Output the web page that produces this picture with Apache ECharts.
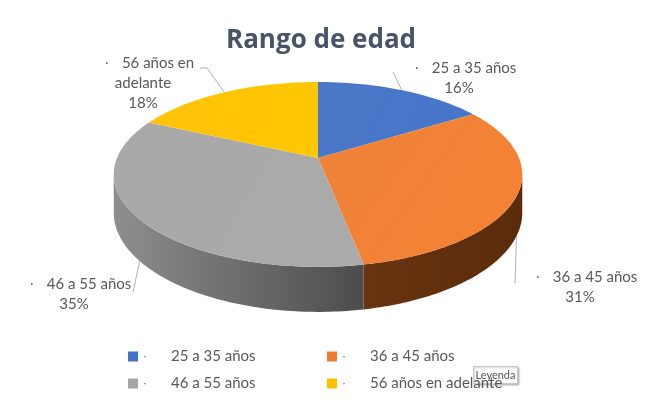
<!DOCTYPE html>
<html>
<head>
<meta charset="utf-8">
<script src="https://cdn.jsdelivr.net/npm/echarts@6/dist/echarts.min.js"></script>
<style>
  html, body { margin: 0; padding: 0; background: #fff; }
  #chart { width: 653px; height: 403px; }
</style>
</head>
<body>
<div id="chart"></div>
<script>
// datos
var categories = ["25 a 35 años", "36 a 45 años", "46 a 55 años", "56 años en adelante"];
var values = [16, 31, 35, 18];
var colors = ["#4472C4", "#ED7D31", "#A5A5A5", "#FFC000"];

// colores de la pared lateral (oscuro)
var sideColors = [
  ["#2f5597", "#24447a"],
  ["#6a3410", "#5a2b0b"],
  ["#8e8e8e", "#4c4c4c"],
  ["#b38600", "#8a6700"]
];

// geometria del pastel 3D (perspectiva simple)
var CX = 318, CY = 158, RX = 201, RY = 89.5, PERSP = 0.178, DEPTH = 37;
// posicion de etiquetas respecto al centro, y punto final de la linea guia
var labelLayout = [
  { dx: 141, dy: -80, lx: -66, ly: -6 },
  { dx: 262, dy: 129, lx: -65, ly: -4 },
  { dx: -244, dy: 136, lx: 59, ly: -2 },
  { dx: -175, dy: -75, lx: 57, ly: -15, elbow: 7 }
];

var total = values.reduce(function (a, b) { return a + b; }, 0);
var startAngles = [];
var acc = 0;
values.forEach(function (v) {
  startAngles.push(acc / total * 360);
  acc += v;
});

function proj(deg, r, drop) {
  var t = deg * Math.PI / 180;
  var c = Math.cos(t) * r, s = Math.sin(t) * r;
  var den = 1 + PERSP * c;
  return [CX + RX * s / den, CY - RY * c / den + (drop || 0) / den];
}

function wrapName(name, max) {
  var words = name.split(" "), lines = [], cur = "";
  words.forEach(function (w) {
    if (cur && (cur + " " + w).length > max) {
      lines.push(cur);
      cur = w;
    } else {
      cur = cur ? cur + " " + w : w;
    }
  });
  if (cur) lines.push(cur);
  return lines;
}

var SIDE_LO = 90 + Math.asin(PERSP) * 180 / Math.PI;
var SIDE_HI = 360 - SIDE_LO;

function renderItem(params, api) {
  var i = params.dataIndex;
  var t1 = startAngles[i];
  var t2 = t1 + api.value(0) / total * 360;
  var children = [];

  // pared lateral
  var s1 = Math.max(t1, SIDE_LO), s2 = Math.min(t2, SIDE_HI);
  if (s2 > s1) {
    var top = [], bottom = [];
    for (var a = s1; a <= s2; a += 1) {
      top.push(proj(a, 1, 0));
      bottom.push(proj(a, 1, DEPTH));
    }
    top.push(proj(s2, 1, 0));
    bottom.push(proj(s2, 1, DEPTH));
    children.push({
      type: "polygon",
      shape: { points: top.concat(bottom.reverse()) },
      style: {
        fill: new echarts.graphic.LinearGradient(0, 0, 1, 0, [
          { offset: 0, color: sideColors[i][0] },
          { offset: 1, color: sideColors[i][1] }
        ])
      }
    });
  }

  // cara superior
  var pts = [[CX, CY]];
  for (var b = t1; b < t2; b += 1) pts.push(proj(b, 1, 0));
  pts.push(proj(t2, 1, 0));
  children.push({
    type: "polygon",
    shape: { points: pts },
    style: {
      fill: new echarts.graphic.LinearGradient(0, 0, 1, 1, [
        { offset: 0, color: echarts.color.lift(colors[i], 0.04) },
        { offset: 1, color: echarts.color.lift(colors[i], -0.04) }
      ])
    }
  });

  // etiqueta
  var mid = (t1 + t2) / 2;
  var midCos = Math.cos(mid * Math.PI / 180);
  var anchor = midCos >= 0 ? proj(mid, 1, 0) : proj(mid, 1, DEPTH);
  var lay = labelLayout[i];
  var lxp = CX + lay.dx, lyp = CY + lay.dy;
  var lead = [[lxp + lay.lx, lyp + lay.ly]];
  if (lay.elbow) lead.push([lxp + lay.lx + lay.elbow, lyp + lay.ly]);
  lead.push(anchor);
  children.push({
    type: "polyline",
    shape: { points: lead },
    style: { stroke: "#a9b1bd", lineWidth: 1, fill: null }
  });
  var lines = wrapName(categories[i], 12);
  var txt = "{d|·}{n|" + lines[0] + "}";
  for (var k = 1; k < lines.length; k++) txt += "\n{n|" + lines[k] + "}";
  txt += "\n{n|" + api.value(0) + "%}";
  children.push({
    type: "text",
    x: lxp,
    y: lyp,
    style: {
      text: txt,
      align: "center",
      verticalAlign: "middle",
      rich: {
        d: { width: 30, fontSize: 12, fill: "#595959", fontFamily: "Lato" },
        n: { fontSize: 15, lineHeight: 20, fill: "#595959", fontFamily: "Lato" }
      }
    }
  });

  return { type: "group", children: children };
}

var legendText = {
  rich: {
    d: { width: 28, fontSize: 12, color: "#595959" },
    n: { fontSize: 15, lineHeight: 18, color: "#595959", fontFamily: "Lato" }
  }
};

var chart = echarts.init(document.getElementById("chart"));
var option = {
  backgroundColor: "#fff",
  animation: false,
  title: {
    text: "Rango de edad",
    left: 221,
    top: 23,
    textStyle: {
      fontFamily: "Open Sans",
      fontSize: 26,
      fontWeight: "bold",
      color: "#475467"
    }
  },
  legend: [
    {
      orient: "vertical",
      left: 123,
      top: 344,
      itemWidth: 10,
      itemHeight: 10,
      itemGap: 12,
      icon: "rect",
      data: [categories[0], categories[2]],
      formatter: function (name) { return "{d|·}{n|" + name + "}"; },
      textStyle: legendText
    },
    {
      orient: "vertical",
      left: 322,
      top: 344,
      itemWidth: 10,
      itemHeight: 10,
      itemGap: 12,
      icon: "rect",
      data: [categories[1], categories[3]],
      formatter: function (name) { return "{d|·}{n|" + name + "}"; },
      textStyle: legendText
    }
  ],
  color: colors,
  graphic: [
    {
      type: "group",
      left: 473,
      top: 366,
      z: 100,
      children: [
        {
          type: "rect",
          shape: { x: 0, y: 0, width: 44, height: 17 },
          style: {
            fill: "#fff",
            stroke: "#c8c8c8",
            lineWidth: 1,
            shadowBlur: 2,
            shadowOffsetX: 1,
            shadowOffsetY: 1,
            shadowColor: "rgba(0,0,0,0.25)"
          }
        },
        {
          type: "text",
          x: 22,
          y: 8.5,
          style: {
            text: "Leyenda",
            align: "center",
            verticalAlign: "middle",
            fontSize: 11,
            fontFamily: "Lato",
            fill: "#555"
          }
        }
      ]
    }
  ],
  series: [
    {
      type: "custom",
      coordinateSystem: "none",
      renderItem: renderItem,
      silent: true,
      data: values
    },
    {
      // solo para la leyenda
      type: "pie",
      silent: true,
      center: [-200, -200],
      radius: [0, 1],
      label: { show: false },
      data: categories.map(function (c, i) {
        return { name: c, value: values[i] };
      })
    }
  ]
};
chart.setOption(option);
</script>
</body>
</html>
